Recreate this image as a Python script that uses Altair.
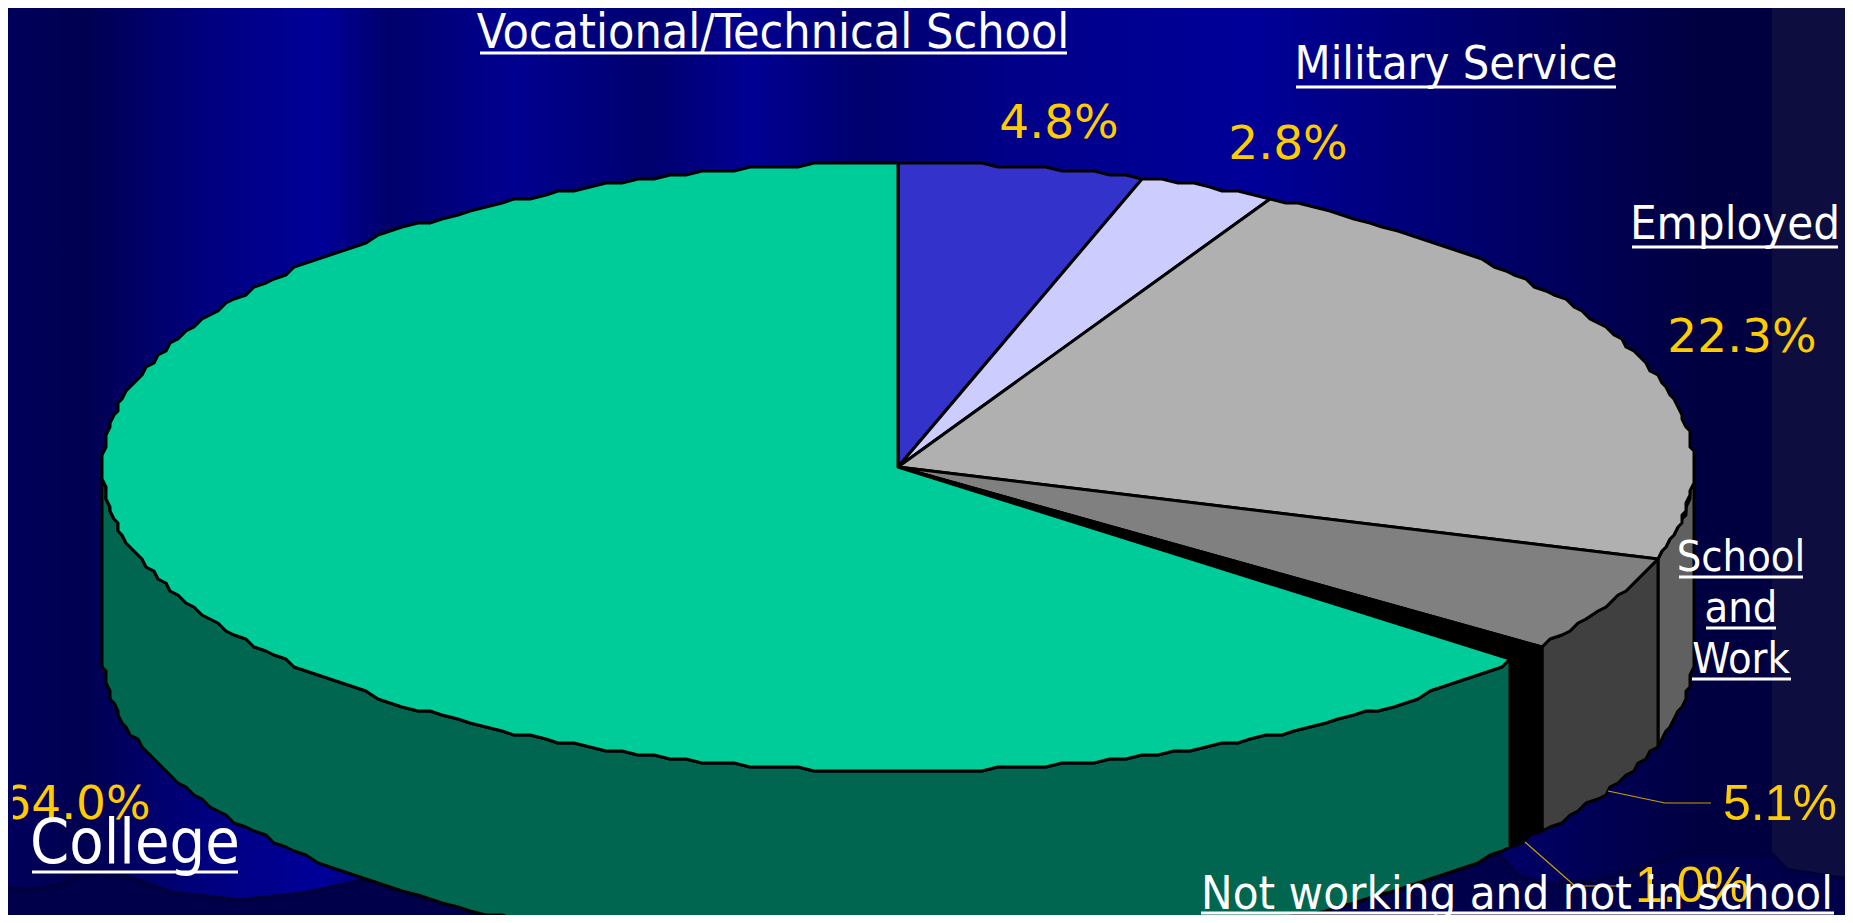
import math
import altair as alt

# ---- values
categories = ["Vocational/Technical School", "Military Service", "Employed",
              "School and Work", "Not working and not in school", "College"]
# slice sizes as measured on the drawn pie (its printed labels are in tahoma_pct / arial_pct)
shares = [5.0, 2.75, 22.15, 5.1, 1.0, 64.0]
top_colors = ["#3333CC", "#CCCCFF", "#B0B0B0", "#808080", "#000000", "#00CC99"]
side_colors = ["#1A1A66", "#666680", "#606060", "#404040", "#000000", "#006650"]

# ---- layout (page pixels)
W, H = 1837, 907
OFF = 8
CX, CY, RX, RY, DEPTH = 898, 467, 795.5, 304, 186
TILT = RY / RX
DROP = DEPTH / RX
GRID = 4.0  # the reference outline is visibly stepped


def pt(theta, drop=0.0):
    x = math.sin(theta)
    y = TILT * math.cos(theta) - drop
    return [round(x * RX / GRID) * GRID / RX, round(y * RX / GRID) * GRID / RX]


def arc(t0, t1, drop=0.0):
    n = max(2, int(abs(t1 - t0) / math.radians(1.2)))
    return [pt(t0 + (t1 - t0) * i / n, drop) for i in range(n + 1)]


def feature(ring, fill):
    ring = ring + [ring[0]]
    return {"type": "Feature", "properties": {"fill": fill},
            "geometry": {"type": "Polygon", "coordinates": [ring]}}


walls, tops = [], []
acc = 0.0
for share, top, side in zip(shares, top_colors, side_colors):
    t0 = acc / 100 * 2 * math.pi
    acc += share
    t1 = acc / 100 * 2 * math.pi
    lo, hi = max(t0, math.pi / 2), min(t1, 3 * math.pi / 2)
    if hi > lo:
        walls.append(feature(arc(lo, hi) + arc(hi, lo, DROP), side))
    tops.append(feature([[0.0, 0.0]] + arc(t0, t1), top))

# ---- background
stop_x = [0, 75, 200, 314, 380, 504, 646, 741, 854, 1000, 1242, 1500, 1695, 1772]
stop_c = ["#00005C", "#000050", "#000080", "#000099", "#00006C", "#000090", "#00006E",
          "#000094", "#00006E", "#000088", "#000099", "#000066", "#000040", "#000040"]
wave_px = [(0, 888), (30, 890), (60, 885), (88, 870), (122, 875), (172, 893), (241, 900),
           (306, 893), (364, 880), (700, 880), (1500, 855), (1517, 875), (1550, 885),
           (1600, 880), (1633, 870), (1683, 853), (1773, 855), (1787, 870), (1853, 880),
           (1853, 930), (0, 930)]
wave_ring = [[(x - CX) / RX, (CY - y) / RX] for x, y in wave_px]

geo = lambda feats: alt.InlineData(values={"type": "FeatureCollection", "features": feats},
                                   format=alt.DataFormat(property="features", type="json"))
proj = dict(type="identity", reflectY=True, scale=RX, translate=[CX - OFF, CY - OFF])
fill_enc = alt.Color("properties.fill:N", scale=None, legend=None)

bg = alt.Chart(alt.Data(values=[{"a": 0}])).mark_rect(
    color=alt.Gradient(gradient="linear", x1=0, x2=1, y1=0, y2=0,
                       stops=[alt.GradientStop(offset=x / W, color=c) for x, c in zip(stop_x, stop_c)])
).encode(x=alt.value(0), x2=alt.value(W), y=alt.value(0), y2=alt.value(H))

band = alt.Chart(alt.Data(values=[{"a": 0}])).mark_rect(color="#0D0D40").encode(
    x=alt.value(1772 - OFF), x2=alt.value(W), y=alt.value(0), y2=alt.value(H))

wave = alt.Chart(geo([feature(wave_ring, "#00004A")])).mark_geoshape(
    stroke="#00003C", strokeWidth=4).encode(fill_enc).project(**proj)
pie_walls = alt.Chart(geo(walls)).mark_geoshape(
    stroke="#000000", strokeWidth=3, strokeJoin="round").encode(fill_enc).project(**proj)
pie_tops = alt.Chart(geo(tops)).mark_geoshape(
    stroke="#000000", strokeWidth=3, strokeJoin="round").encode(fill_enc).project(**proj)

# ---- text
white_labels = [
    ("Vocational/Technical School", 773, 48, 48),
    ("Military Service", 1456, 79, 46.5),
    ("Employed", 1735, 239, 47),
    ("School", 1741, 571, 43),
    ("and", 1741, 622, 43),
    ("Work", 1741, 673, 43),
    ("College", 135, 863, 62.5),
    ("Not working and not in school", 1517, 909, 47),
]
tahoma_pct = [("4.8%", 1059, 138, 47), ("2.8%", 1288, 159, 47), ("22.3%", 1742, 352, 47),
              ("64.0%", 76, 819, 47)]
arial_pct = [("5.1%", 1780, 820, 50), ("1.0%", 1692, 902, 50)]
underlines = [(480, 1067, 53), (1296, 1616, 87), (1632, 1838, 247), (1679, 1803, 577),
              (1706, 1776, 628), (1692, 1791, 679), (32, 238, 872), (1201, 1834, 913)]
leaders = [(1608, 791, 1665, 803), (1665, 803, 1711, 803),
           (1525, 842, 1575, 886), (1575, 886, 1622, 886)]


def text_layer(rows, color, font):
    vals = [{"t": t, "x": x - OFF, "y": y - OFF, "s": s} for t, x, y, s in rows]
    return alt.Chart(alt.Data(values=vals)).mark_text(
        color=color, font=font, align="center", baseline="alphabetic"
    ).encode(x=alt.X("x:Q", scale=None), y=alt.Y("y:Q", scale=None),
             text="t:N", size=alt.Size("s:Q", scale=None, legend=None))


under = alt.Chart(alt.Data(values=[{"x": a - OFF, "x2": b - OFF, "y": y - OFF} for a, b, y in underlines])).mark_rule(
    color="#FFFFFF", strokeWidth=3
).encode(x=alt.X("x:Q", scale=None), x2="x2:Q", y=alt.Y("y:Q", scale=None))
lead = alt.Chart(alt.Data(values=[{"x": a - OFF, "y": b - OFF, "x2": c - OFF, "y2": d - OFF} for a, b, c, d in leaders])).mark_rule(
    color="#C9A000", strokeWidth=1.2
).encode(x=alt.X("x:Q", scale=None), x2="x2:Q", y=alt.Y("y:Q", scale=None), y2="y2:Q")
clip_edge = alt.Chart(alt.Data(values=[{"a": 0}])).mark_rect(color="#00005C").encode(
    x=alt.value(0), x2=alt.value(5), y=alt.value(770), y2=alt.value(830))

chart = alt.layer(
    bg, band, wave, pie_walls, pie_tops, lead,
    text_layer(tahoma_pct, "#FFCC00", "DejaVu Sans"),
    text_layer(arial_pct, "#FFCC00", "Liberation Sans"),
    clip_edge,
    text_layer(white_labels, "#FFFFFF", "DejaVu Sans Condensed"),
    under,
).properties(width=W, height=H, padding=0, background="#00005C",
             autosize=alt.AutoSizeParams(type="none")
).configure_view(stroke=None)

chart.save("out.html", embed_options={"renderer": "svg", "actions": False})
